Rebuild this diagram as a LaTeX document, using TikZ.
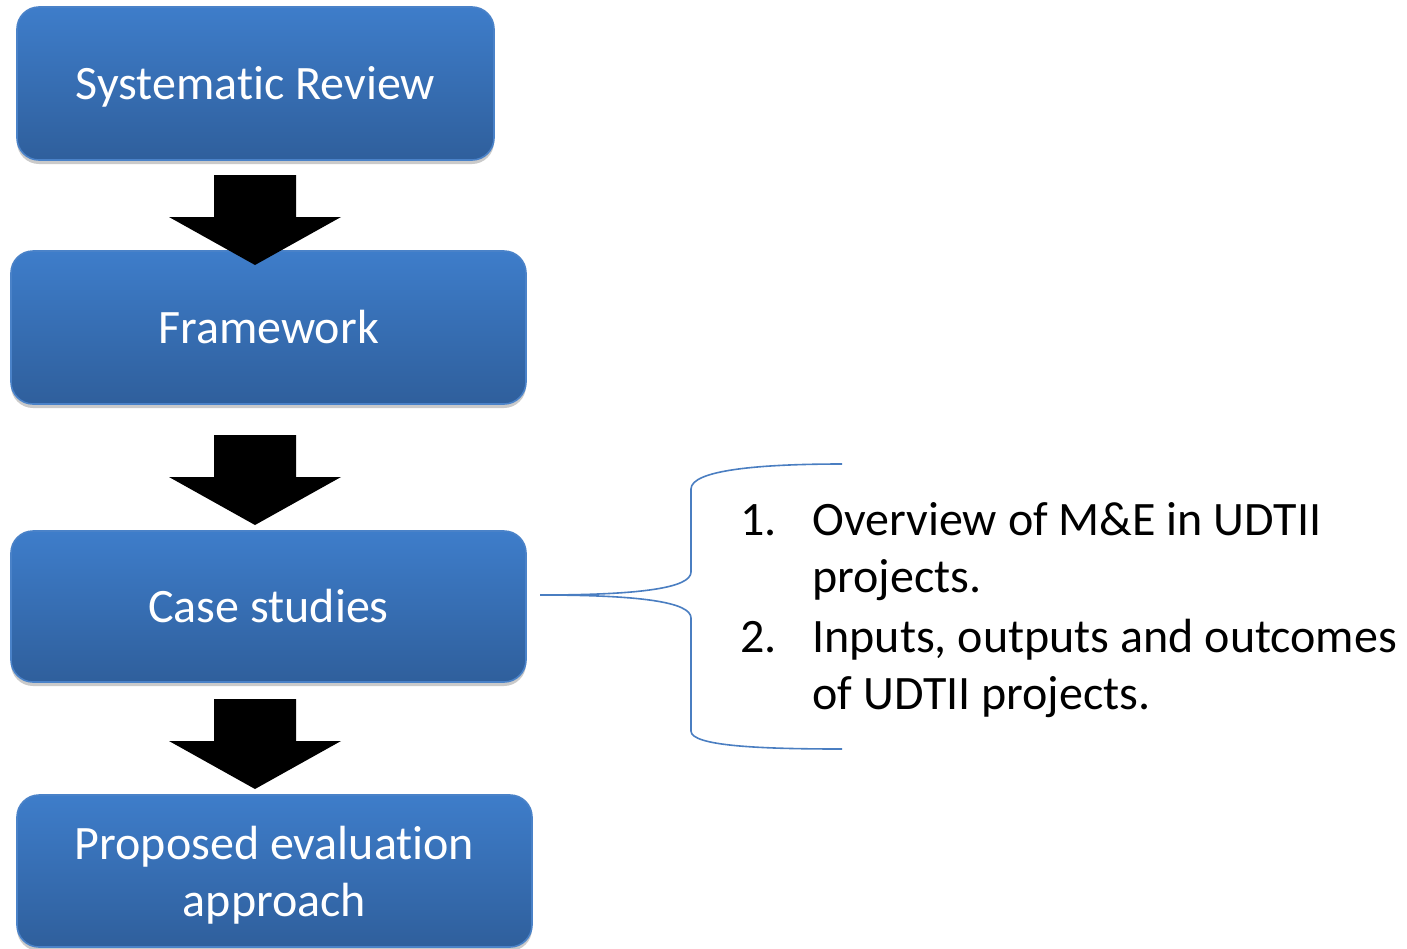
\documentclass[tikz,border=0pt]{standalone}
\usepackage{fontspec}
\setmainfont[Ligatures=NoCommon]{Carlito}
\usetikzlibrary{calc,shadows}
\definecolor{boxtop}{HTML}{3E7DCA}
\definecolor{boxbot}{HTML}{2F5F9C}
\definecolor{boxedge}{HTML}{4A82C8}
\definecolor{bracecol}{HTML}{4A7EC1}
\tikzset{
  stepbox/.style={rounded corners=11pt, top color=boxtop, bottom color=boxbot,
    draw=boxedge, line width=0.8pt, text=white, align=center,
    font=\fontsize{24}{28.5}\selectfont, inner sep=0pt, text depth=0pt,
    drop shadow={shadow xshift=0pt, shadow yshift=-2pt, opacity=0.35, fill=black!60}},
  oneline/.style={text height=16pt},
  blockarrow/.style={fill=black, draw=none},
  bracestyle/.style={draw=bracecol, line width=0.8pt},
  listtext/.style={font=\fontsize{24}{28.5}\selectfont, anchor=base west, inner sep=0pt}
}
\begin{document}
\begin{tikzpicture}[x=0.5pt,y=-0.5pt]
\useasboundingbox (0,0) rectangle (1407,948);

% process boxes
\node[stepbox, oneline, minimum width=238.5pt, minimum height=76.5pt] (review) at (255.5,83.5) {Systematic Review};
\node[stepbox, oneline, minimum width=257.5pt, minimum height=76.5pt] (frame) at (268.5,327.5) {Framework};
\node[stepbox, oneline, minimum width=257.5pt, minimum height=75.5pt] (cases) at (268.5,606.5) {Case studies};
\node[stepbox, minimum width=257.5pt, minimum height=76pt] (approach) at (274.5,871) {Proposed evaluation\\approach};

% block arrows between the steps
\foreach \t in {175,435,699}{
  \fill[blockarrow] (214,\t) -- (296,\t) -- (296,\t+42) -- (341,\t+42)
    -- (255,\t+90) -- (169,\t+42) -- (214,\t+42) -- cycle;
}

% curly brace gathering the case-study items
\coordinate (bracetip) at (540,595);
\coordinate (bracetop) at (842,464);
\coordinate (bracebot) at (842,749);
\draw[bracestyle] (bracetip) .. controls (640,595) and (691,588) .. (691,572)
  -- (691,489) .. controls (691,470) and (760,464) .. (bracetop);
\draw[bracestyle] (bracetip) .. controls (640,595) and (691,602) .. (691,618)
  -- (691,731) .. controls (691,746) and (760,749) .. (bracebot);

% list of case-study items
\node[listtext] (n1) at (740,535) {1.};
\node[listtext] (t1a) at (812,535) {Overview of M\&E in UDTII};
\node[listtext] (t1b) at (812,592) {projects.};
\node[listtext] (n2) at (740,652) {2.};
\node[listtext] (t2a) at (812,652) {Inputs, outputs and outcomes};
\node[listtext] (t2b) at (812,709) {of UDTII projects.};
\end{tikzpicture}
\end{document}
